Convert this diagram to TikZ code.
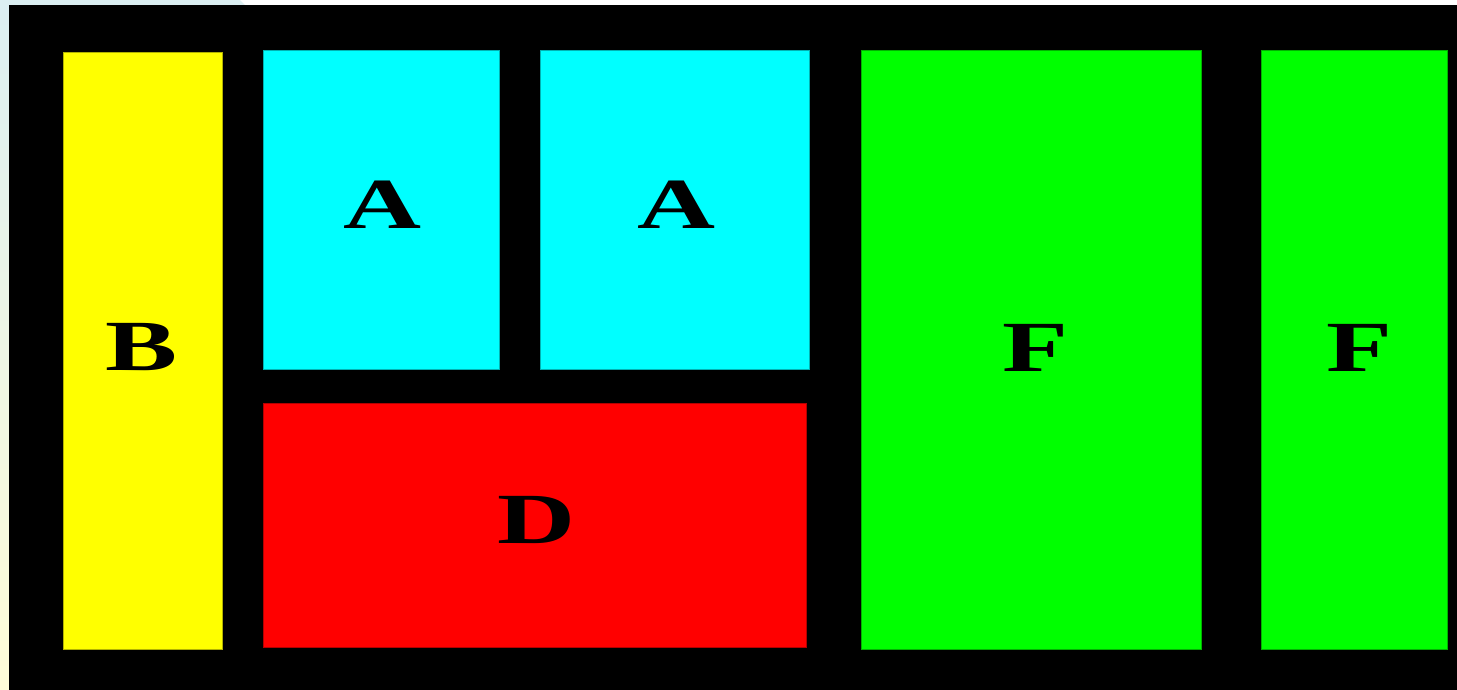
\documentclass[tikz,border=0pt]{standalone}
\usepackage{fontspec}
\setmainfont{Liberation Serif}
\begin{document}
\begin{tikzpicture}[x=1pt,y=-1pt,
  box/.style={draw=#1!70!black, line width=0.8pt, fill=#1, inner sep=0pt, anchor=center},
  lbl/.style={inner sep=0pt, anchor=center, font=\fontsize{72}{72}\selectfont\bfseries}]
\definecolor{cy}{RGB}{0,255,255}
\definecolor{ye}{RGB}{255,255,0}
\definecolor{rd}{RGB}{255,0,0}
\definecolor{gr}{RGB}{0,255,0}
\definecolor{bgtop}{RGB}{220,239,242}
\definecolor{bgbot}{RGB}{255,253,216}
\useasboundingbox (0,0) rectangle (1457,690);
% background
\shade[top color=bgtop, bottom color=bgbot] (0,0) rectangle (1457,690);
\fill[white] (240,0) -- (1457,0) -- (1457,5) -- (245,5) -- cycle;
% black panel
\fill[black] (9,5) rectangle (1457,690);
% boxes
\node[box=ye, minimum width=159pt, minimum height=597pt] (B) at (142.5,350.5) {};
\node[box=cy, minimum width=236pt, minimum height=319pt] (A1) at (381,209.5) {};
\node[box=cy, minimum width=269pt, minimum height=319pt] (A2) at (674.5,209.5) {};
\node[box=rd, minimum width=543pt, minimum height=244pt] (D) at (534.5,525) {};
\node[box=gr, minimum width=340pt, minimum height=599pt] (F1) at (1031,349.5) {};
\node[box=gr, minimum width=186pt, minimum height=599pt] (F2) at (1354,349.5) {};
% labels
\node[lbl] (tB) at (141.5,347) {\scalebox{1.5}[1]{B}};
\node[lbl] (tA1) at (382.5,205) {\scalebox{1.5}[1]{A}};
\node[lbl] (tA2) at (676,205) {\scalebox{1.5}[1]{A}};
\node[lbl] (tD) at (536,520) {\scalebox{1.5}[1]{D}};
\node[lbl] (tF1) at (1035,347.5) {\scalebox{1.5}[1]{F}};
\node[lbl] (tF2) at (1359,347.5) {\scalebox{1.5}[1]{F}};
\end{tikzpicture}
\end{document}
